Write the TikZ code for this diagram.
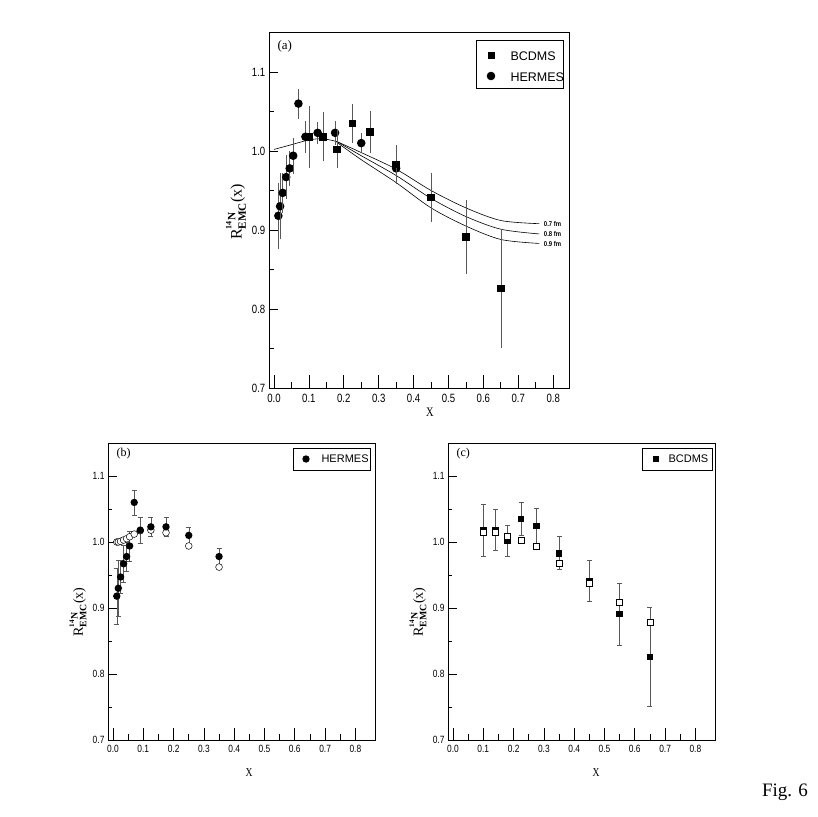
\documentclass[tikz,border=0pt]{standalone}
\usepackage{fontspec}
\setmainfont{Liberation Serif}
\newfontfamily\ticksf{Liberation Sans}
\begin{document}
\begin{tikzpicture}[x=1pt,y=-1pt,
  frame/.style={line width=0.8pt},
  oc/.style={draw=black,fill=white,line width=0.5pt},
  eb/.style={line width=0.5pt,gray!70!black},
  curve/.style={line width=0.6pt},
  ticklab/.style={font=\ticksf\fontsize{\tfs}{\tfs}\selectfont,xscale=0.8,inner sep=2pt},
  lg/.style={font=\ticksf\fontsize{12.5}{14}\selectfont}]
\useasboundingbox (0,0) rectangle (817,817);
\newcommand\axesbox[3]{% #1 left, #2 right, #3 ticksize
  \draw[frame] (#1,0.7) rectangle (#2,1.15);
  \foreach \t in {0,0.1,...,0.85}{\draw[frame] (\t,0.7) -- ++(0,#3*2);}
  \foreach \t in {0.05,0.15,...,0.8}{\draw[frame] (\t,0.7) -- ++(0,#3);}
  \foreach \t in {0.7,0.8,...,1.15}{\draw[frame] (#1,\t) -- ++(#3*2*0.05/0.03,0);}
  \foreach \t in {0.75,0.85,...,1.15}{\draw[frame] (#1,\t) -- ++(#3*0.05/0.03,0);}
  \foreach \t/\l in {0/0.0,0.1/0.1,0.2/0.2,0.3/0.3,0.4/0.4,0.5/0.5,0.6/0.6,0.7/0.7,0.8/0.8}{\node[ticklab,anchor=north] (xl\l) at (\t,0.695) {\l};}
  \foreach \t in {0.7,0.8,0.9,1.0,1.1}{\node[ticklab,anchor=east] (yl\t) at (#1-0.006,\t) {\t};}
}
% ---------- panel (a) ----------
\def\tfs{12}
\begin{scope}[shift={(274,941)},x=349pt,y=790pt]
\axesbox{-0.014}{0.846}{0.008}
\draw[curve] plot[smooth] coordinates {(0,1.002) (0.05,1.008) (0.1,1.014) (0.14,1.0155) (0.18,1.012)};
\draw[curve] plot[smooth] coordinates {(0.18,1.012) (0.25,0.998) (0.35,0.977) (0.45,0.950) (0.55,0.928) (0.65,0.912) (0.76,0.908)};
\draw[curve] plot[smooth] coordinates {(0.18,1.012) (0.25,0.994) (0.35,0.969) (0.45,0.940) (0.55,0.917) (0.65,0.901) (0.76,0.895)};
\draw[curve] plot[smooth] coordinates {(0.18,1.011) (0.25,0.989) (0.35,0.960) (0.45,0.928) (0.55,0.905) (0.65,0.888) (0.76,0.883)};
\node[anchor=west,font=\ticksf\bfseries\fontsize{7}{8}\selectfont,xscale=0.85] (l7) at (0.765,0.908) {0.7 fm};
\node[anchor=west,font=\ticksf\bfseries\fontsize{7}{8}\selectfont,xscale=0.85] (l8) at (0.765,0.895) {0.8 fm};
\node[anchor=west,font=\ticksf\bfseries\fontsize{7}{8}\selectfont,xscale=0.85] (l9) at (0.765,0.882) {0.9 fm};
\foreach \x/\y/\e in {0.0125/0.918/0.042,0.0175/0.930/0.042,0.025/0.947/0.025,0.035/0.967/0.028,0.045/0.978/0.022,0.055/0.994/0.023,0.07/1.060/0.019,0.09/1.018/0.02,0.125/1.023/0.014,0.175/1.023/0.015,0.25/1.010/0.013,0.35/0.978/0.013}{
  \draw[eb] (\x,\y-\e) -- (\x,\y+\e); \fill (\x,\y) circle (4.3pt);}
\foreach \x/\y/\e in {0.10/1.018/0.039,0.14/1.018/0.031,0.18/1.002/0.024,0.225/1.035/0.025,0.275/1.024/0.027,0.35/0.983/0.025,0.45/0.941/0.031,0.55/0.891/0.047,0.65/0.826/0.075}{
  \draw[eb] (\x,\y-\e) -- (\x,\y+\e); \fill ([shift={(-3.8pt,-3.8pt)}]\x,\y) rectangle ++(7.6pt,7.6pt);}
\node[anchor=north west,font=\fontsize{13}{14}\selectfont] (pa) at (0.0,1.145) {(a)};
\end{scope}
\draw[line width=0.6pt] (476,40) rectangle (563,88);
\fill (488,52) rectangle ++(7,7);
\fill (491,76) circle (4.3);
\node[lg,anchor=west] (la1) at (507,56) {BCDMS};
\node[lg,anchor=west] (la2) at (507,77) {HERMES};
\node[rotate=90,font=\fontsize{16}{18}\selectfont] (ya) at (236,212) {R$^{\mathbf{^{14}N}}_{\mathbf{EMC}}$(x)};
\node[font=\fontsize{13}{14}\selectfont,xscale=0.8] (xa) at (430,412) {X};
% ---------- panel (b) ----------
\def\tfs{10.5}
\begin{scope}[shift={(113,1202)},x=303pt,y=660pt]
\axesbox{-0.0165}{0.865}{0.009}
\foreach \x/\y/\e in {0.0125/0.918/0.042,0.0175/0.930/0.042,0.025/0.947/0.025,0.035/0.967/0.028,0.045/0.978/0.022,0.055/0.994/0.023,0.07/1.060/0.019,0.09/1.018/0.02,0.125/1.023/0.014,0.175/1.023/0.015,0.25/1.010/0.013,0.35/0.978/0.013}{
  \draw[eb] (\x,\y-\e) -- (\x,\y+\e) ([xshift=-2.5pt]\x,\y-\e) -- ++(5pt,0) ([xshift=-2.5pt]\x,\y+\e) -- ++(5pt,0);}
\foreach \x/\y in {0.0125/1.000,0.0175/1.000,0.025/1.001,0.035/1.003,0.045/1.005,0.055/1.008,0.07/1.012,0.09/1.017,0.125/1.018,0.175/1.014,0.25/0.994,0.35/0.962}{
  \draw[oc] (\x,\y) circle (3.4pt);}
\foreach \x/\y in {0.0125/0.918,0.0175/0.930,0.025/0.947,0.035/0.967,0.045/0.978,0.055/0.994,0.07/1.060,0.09/1.018,0.125/1.023,0.175/1.023,0.25/1.010,0.35/0.978}{
  \fill (\x,\y) circle (3.7pt);}
\node[anchor=north west,font=\fontsize{12}{13}\selectfont] (pb) at (0.0,1.147) {(b)};
\end{scope}
\draw[line width=0.6pt] (293,448) rectangle (370,470);
\fill (306,459) circle (3.7);
\node[anchor=west,font=\ticksf\fontsize{11}{12}\selectfont] (lb) at (318,459) {HERMES};
\node[rotate=90,font=\fontsize{14}{16}\selectfont] (yb) at (78,612) {R$^{\mathbf{^{14}N}}_{\mathbf{EMC}}$(x)};
\node[font=\fontsize{12}{13}\selectfont,xscale=0.8] (xb) at (249,773) {X};
% ---------- panel (c) ----------
\begin{scope}[shift={(453,1202)},x=303pt,y=660pt]
\axesbox{-0.0165}{0.865}{0.009}
\foreach \x/\y/\e in {0.10/1.018/0.039,0.14/1.018/0.031,0.18/1.002/0.024,0.225/1.035/0.025,0.275/1.024/0.027,0.35/0.983/0.025,0.45/0.941/0.031,0.55/0.891/0.047,0.65/0.826/0.075}{
  \draw[eb] (\x,\y-\e) -- (\x,\y+\e) ([xshift=-2.5pt]\x,\y-\e) -- ++(5pt,0) ([xshift=-2.5pt]\x,\y+\e) -- ++(5pt,0);}
\foreach \x/\y in {0.10/1.018,0.14/1.018,0.18/1.002,0.225/1.035,0.275/1.024,0.35/0.983,0.45/0.941,0.55/0.891,0.65/0.826}{
  \fill ([shift={(-3.3pt,-3.3pt)}]\x,\y) rectangle ++(6.6pt,6.6pt);}
\foreach \x/\y in {0.10/1.015,0.14/1.015,0.18/1.008,0.225/1.003,0.275/0.993,0.35/0.968,0.45/0.937,0.55/0.909,0.65/0.879}{
  \draw[oc] ([shift={(-3pt,-3pt)}]\x,\y) rectangle ++(6pt,6pt);}
\node[anchor=north west,font=\fontsize{12}{13}\selectfont] (pc) at (0.0,1.147) {(c)};
\end{scope}
\draw[line width=0.6pt] (642,448) rectangle (712,470);
\fill (653,456) rectangle ++(6,6);
\node[anchor=west,font=\ticksf\fontsize{11}{12}\selectfont] (lc) at (665,459) {BCDMS};
\node[rotate=90,font=\fontsize{14}{16}\selectfont] (yc) at (418,612) {R$^{\mathbf{^{14}N}}_{\mathbf{EMC}}$(x)};
\node[font=\fontsize{12}{13}\selectfont,xscale=0.8] (xc) at (596,773) {X};
\node[font=\fontsize{19}{21}\selectfont] (fig) at (785,792) {Fig. 6};
\end{tikzpicture}
\end{document}
